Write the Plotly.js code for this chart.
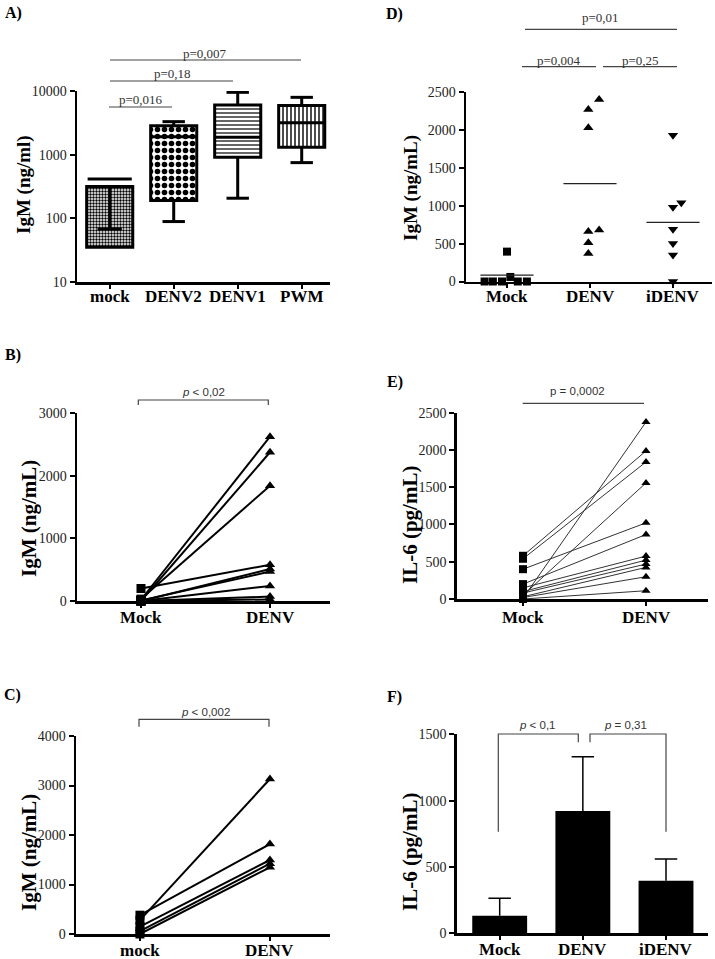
<!DOCTYPE html>
<html><head><meta charset="utf-8">
<script src="https://cdn.plot.ly/plotly-3.0.1.min.js"></script>
<style>html,body{margin:0;padding:0;background:#fff;}</style>
</head><body><div id="chart" style="width:715px;height:959px;"></div>
<script>
// ---------- Panel A (box plots, log scale) ----------
const aCats = ['mock', 'DENV2', 'DENV1', 'PWM'];
const aQ1 = [35, 190, 910, 1306];
const aQ3 = [315, 2850, 6000, 5900];
const aMedian = [null, 1920, 1875, 3180];
const aLow = [68, 89, 207, 750];
const aHigh = [415, 3300, 9530, 7950];
const aYTicks = [10, 100, 1000, 10000];
const aPvals = ['p=0,007', 'p=0,18', 'p=0,016'];

// ---------- Panel D (scatter with means) ----------
const dCats = ['Mock', 'DENV', 'iDENV'];
const dMock = [0, 0, 0, 60, 0, 0, 394];
const dMockJitter = [-0.27, -0.17, -0.06, 0.04, 0.13, 0.24, 0];
const dDenv = [2400, 2270, 2030, 680, 660, 510, 370];
const dDenvJitter = [0.11, -0.02, -0.02, 0.11, -0.02, -0.02, -0.02];
const dIdenv = [1930, 1040, 980, 690, 500, 350, 0];
const dIdenvJitter = [0, 0.1, 0, 0, 0, 0, 0];
const dMeans = [85, 1290, 780];
const dPvals = ['p=0,01', 'p=0,004', 'p=0,25'];

// ---------- Panel B (paired) ----------
const bCats = ['Mock', 'DENV'];
const bMock = [200, 0, 10, 0, 0, 0, 20, 0, 30];
const bDenv = [580, 510, 470, 240, 70, 25, 2626, 2377, 1843];

// ---------- Panel E (paired) ----------
const eCats = ['Mock', 'DENV'];
const eMock = [580, 540, 400, 10, 50, 200, 150, 100, 80, 30, 20, 0];
const eDenv = [1987, 1839, 1022, 2375, 1558, 866, 576, 522, 469, 424, 299, 111];

// ---------- Panel C (paired) ----------
const cCats = ['mock', 'DENV'];
const cMock = [280, 380, 150, 60, 0];
const cDenv = [3131, 1818, 1495, 1420, 1347];

// ---------- Panel F (bars + SD) ----------
const fCats = ['Mock', 'DENV', 'iDENV'];
const fMeans = [132, 921, 396];
const fErr = [132, 409, 164];

const W = 715, H = 959;
const SERIF = 'Liberation Serif, Times New Roman, serif';
const SANS = 'Liberation Sans, Arial, sans-serif';
const px = v => v / W;
const py = v => 1 - v / H;

const traces = [];

// Panel A boxes: pattern-filled bars from Q1 to Q3
traces.push({
  type: 'bar', xaxis: 'x', yaxis: 'y',
  x: aCats.map((_, i) => i), base: aQ1, y: aQ3.map((v, i) => v - aQ1[i]),
  width: 0.72, hoverinfo: 'skip',
  marker: {
    color: 'white', line: {color: 'black', width: 3},
    pattern: {shape: ['.', '.', '-', '|'], size: [3, 7, 4, 4], solidity: [0.5, 0.5, 0.3, 0.35],
      fgcolor: 'black', bgcolor: 'white', fillmode: 'overlay', fgopacity: 1}
  }
});
(function () {
  const x = [], y = [];
  const seg = (x0, x1, y0, y1) => { x.push(x0, x1, null); y.push(y0, y1, null); };
  aCats.forEach((_, i) => {
    if (aLow[i] >= aQ1[i]) {
      seg(i, i, aQ3[i], aLow[i]);
      seg(i - 0.19, i + 0.19, aLow[i], aLow[i]);
      seg(i - 0.345, i + 0.345, aHigh[i], aHigh[i]);
    } else {
      seg(i, i, aQ1[i], aLow[i]);
      seg(i - 0.175, i + 0.175, aLow[i], aLow[i]);
      seg(i, i, aQ3[i], aHigh[i]);
      seg(i - 0.175, i + 0.175, aHigh[i], aHigh[i]);
    }
  });
  traces.push({type: 'scatter', mode: 'lines', xaxis: 'x', yaxis: 'y', x, y,
    line: {color: 'black', width: 3}, hoverinfo: 'skip', cliponaxis: false});
  const mx = [], my = [];
  aMedian.forEach((m, i) => { if (m != null) { mx.push(i - 0.36, i + 0.36, null); my.push(m, m, null); } });
  traces.push({type: 'scatter', mode: 'lines', xaxis: 'x', yaxis: 'y', x: mx, y: my,
    line: {color: 'black', width: 3}, hoverinfo: 'skip'});
})();

// Panel D
traces.push({type: 'scatter', mode: 'markers', xaxis: 'x2', yaxis: 'y2',
  x: dMock.map((_, i) => 0 + dMockJitter[i]), y: dMock,
  marker: {symbol: 'square', size: 8, color: 'black'}, cliponaxis: false});
traces.push({type: 'scatter', mode: 'markers', xaxis: 'x2', yaxis: 'y2',
  x: dDenv.map((_, i) => 1 + dDenvJitter[i]), y: dDenv,
  marker: {symbol: 'triangle-up', size: 9, color: 'black'}, cliponaxis: false});
traces.push({type: 'scatter', mode: 'markers', xaxis: 'x2', yaxis: 'y2',
  x: dIdenv.map((_, i) => 2 + dIdenvJitter[i]), y: dIdenv,
  marker: {symbol: 'triangle-down', size: 9, color: 'black'}, cliponaxis: false});
(function () {
  const x = [], y = [];
  dMeans.forEach((m, i) => { x.push(i - 0.32, i + 0.32, null); y.push(m, m, null); });
  traces.push({type: 'scatter', mode: 'lines', xaxis: 'x2', yaxis: 'y2', x, y,
    line: {color: '#222', width: 1.3}, cliponaxis: false});
})();

// Paired panels
function paired(mock, denv, xa, ya, lw, lc, ms) {
  const x = [], y = [], sym = [];
  mock.forEach((m, i) => {
    x.push(0, 1, null); y.push(m, denv[i], null); sym.push('square', 'triangle-up', 'square');
  });
  traces.push({type: 'scatter', mode: 'lines+markers', xaxis: xa, yaxis: ya, x, y,
    connectgaps: false, line: {color: lc, width: lw},
    marker: {symbol: sym, size: ms, color: 'black'}, cliponaxis: false});
}
paired(bMock, bDenv, 'x3', 'y3', 2, 'black', 9);
paired(eMock, eDenv, 'x4', 'y4', 1, '#333', 8);
paired(cMock, cDenv, 'x5', 'y5', 2, 'black', 9);

// Panel F: bars + upward SD whiskers
traces.push({type: 'bar', xaxis: 'x6', yaxis: 'y6', x: fCats.map((_, i) => i), y: fMeans,
  width: 0.66, marker: {color: 'black'}});
(function () {
  const x = [], y = [];
  fMeans.forEach((m, i) => {
    x.push(i, i, null, i - 0.135, i + 0.135, null);
    y.push(m, m + fErr[i], null, m + fErr[i], m + fErr[i], null);
  });
  traces.push({type: 'scatter', mode: 'lines', xaxis: 'x6', yaxis: 'y6', x, y,
    line: {color: 'black', width: 1.5}, cliponaxis: false});
})();

// ---------- Axes ----------
const axBase = {showline: true, linecolor: 'black', linewidth: 2.5, ticks: 'outside', ticklen: 5,
  tickwidth: 2, tickcolor: 'black', showgrid: false, zeroline: false, fixedrange: true,
  tickfont: {family: SERIF, size: 14, color: '#222'}};
function xax(l, r, range, cats, anchor) {
  return Object.assign({}, axBase, {domain: [px(l), px(r)], range, anchor,
    tickmode: 'array', tickvals: cats.map((_, i) => i), showticklabels: false, ticklen: 4});
}
function yax(top, bot, range, anchor, extra) {
  return Object.assign({}, axBase, {domain: [py(bot), py(top)], range, anchor}, extra || {});
}

const layout = {
  width: W, height: H, margin: {l: 0, r: 0, t: 0, b: 0},
  paper_bgcolor: 'white', plot_bgcolor: 'rgba(0,0,0,0)', showlegend: false,
  xaxis: xax(77, 330, [-0.511, 3.442], aCats, 'y'),
  yaxis: yax(91, 282, [1, 4], 'x', {type: 'log', tickmode: 'array', tickvals: aYTicks, ticktext: aYTicks.map(String)}),
  xaxis2: xax(466, 712, [-0.494, 2.47], dCats, 'y2'),
  yaxis2: yax(92, 281.5, [0, 2500], 'x2', {dtick: 500}),
  xaxis3: xax(77, 330, [-0.496, 1.465], bCats, 'y3'),
  yaxis3: yax(413.3, 601, [0, 3000], 'x3', {dtick: 1000}),
  xaxis4: xax(456.7, 708, [-0.539, 1.504], eCats, 'y4'),
  yaxis4: yax(412.7, 599, [0, 2500], 'x4', {dtick: 500}),
  xaxis5: xax(76, 330, [-0.492, 1.462], cCats, 'y5'),
  yaxis5: yax(736, 934, [0, 4000], 'x5', {dtick: 1000}),
  xaxis6: xax(456.7, 708, [-0.517, 2.505], fCats, 'y6'),
  yaxis6: yax(734.3, 933.3, [0, 1500], 'x6', {dtick: 500}),
  shapes: [], annotations: []
};

const sigLine = {color: '#444', width: 1.2};
function hline(x0, x1, y) {
  layout.shapes.push({type: 'line', xref: 'paper', yref: 'paper', x0: px(x0), x1: px(x1), y0: py(y), y1: py(y), line: sigLine});
}
function path(pts) {
  const d = pts.map((p, i) => (i ? 'L' : 'M') + px(p[0]) + ',' + py(p[1])).join(' ');
  layout.shapes.push({type: 'path', xref: 'paper', yref: 'paper', path: d, line: sigLine});
}
function txt(text, x, y, font, extra) {
  layout.annotations.push(Object.assign({text, x: px(x), y: py(y), xref: 'paper', yref: 'paper',
    xanchor: 'center', yanchor: 'middle', showarrow: false, font}, extra || {}));
}
// category labels through each x axis
const catFont = {family: SERIF, size: 17, color: 'black', weight: 'bold'};
function catLabels(cats, xref, yPx) {
  cats.forEach((c, i) => layout.annotations.push({text: c, x: i, xref, y: py(yPx), yref: 'paper',
    xanchor: 'center', yanchor: 'middle', showarrow: false, font: catFont}));
}
catLabels(aCats, 'x', 296);
catLabels(dCats, 'x2', 296);
catLabels(bCats, 'x3', 617);
catLabels(eCats, 'x4', 617);
catLabels(cCats, 'x5', 950);
catLabels(fCats, 'x6', 949);

const pSerif = {family: SERIF, size: 13, color: '#333'};
const pSans = {family: SANS, size: 11.5, color: '#333'};

// A significance
hline(110, 301, 60); txt(aPvals[0], 205, 53, pSerif);
hline(110, 233, 81); txt(aPvals[1], 172, 73, pSerif);
hline(109, 172, 107); txt(aPvals[2], 141, 100, pSerif);
// D significance
hline(525, 677, 29.3); txt(dPvals[0], 600, 17.5, pSerif);
hline(522, 596, 66.7); txt(dPvals[1], 559, 60, pSerif);
hline(603, 677, 66.7); txt(dPvals[2], 640, 60, pSerif);
// B bracket
path([[138.3, 405], [138.3, 400], [268.3, 400], [268.3, 405]]);
txt('<i>p</i> < 0,02', 203, 392, pSans);
// E line
hline(522.7, 644, 403.3);
txt('p = 0,0002', 577, 391, pSans);
// C bracket
path([[139, 726.7], [139, 719.3], [269, 719.3], [269, 726.7]]);
txt('<i>p</i> < 0,002', 205, 711.7, pSans);
// F brackets
path([[498.3, 831.7], [498.3, 734], [578.3, 734], [578.3, 742.3]]);
path([[590, 742.3], [590, 734], [666, 734], [666, 831.7]]);
txt('<i>p</i> < 0,1', 537, 725, pSans);
txt('<i>p</i> = 0,31', 625, 725, pSans);

// Panel labels
const lab = {family: SERIF, size: 16, color: 'black', weight: 'bold'};
txt('A)', 13, 12.5, lab); txt('D)', 395, 14, lab);
txt('B)', 12.5, 355, lab); txt('E)', 395, 382, lab);
txt('C)', 12.5, 695, lab); txt('F)', 395, 697, lab);

// Y titles
const yt1 = {family: SERIF, size: 19, color: 'black', weight: 'bold'};
const yt2 = {family: SERIF, size: 21, color: 'black', weight: 'bold'};
txt('IgM (ng/ml)', 24, 185, yt1, {textangle: -90});
txt('IgM (ng/mL)', 411, 188, yt1, {textangle: -90});
txt('IgM (ng/mL)', 29, 519, yt2, {textangle: -90});
txt('IL-6 (pg/mL)', 410, 525, yt2, {textangle: -90});
txt('IgM (ng/mL)', 29, 853, yt2, {textangle: -90});
txt('IL-6 (pg/mL)', 410, 852, yt2, {textangle: -90});

Plotly.newPlot('chart', traces, layout, {staticPlot: true, displayModeBar: false});
</script></body></html>
